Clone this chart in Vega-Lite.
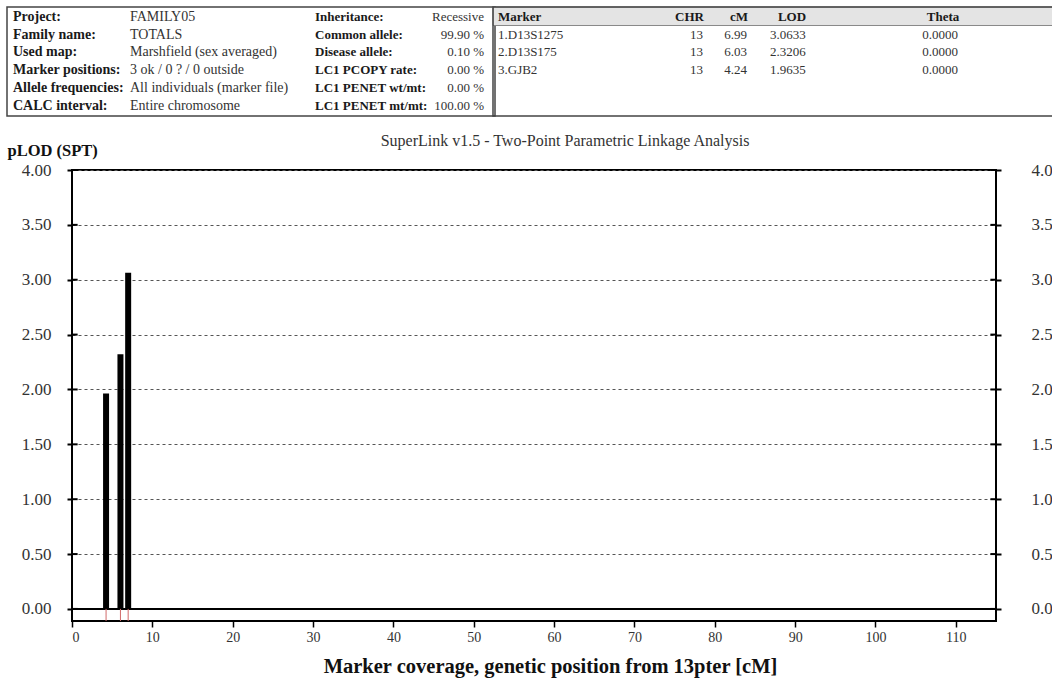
{
  "$schema": "https://vega.github.io/schema/vega-lite/v6.json",
  "width": 924,
  "height": 451,
  "autosize": {"type": "none"},
  "padding": {"left": 72, "top": 170, "right": 56, "bottom": 62},
  "background": "white",
  "config": {
    "view": {"stroke": "#000", "strokeWidth": 2},
    "text": {"font": "Liberation Serif", "fontSize": 13, "baseline": "middle", "color": "#333"}
  },
  "datasets": {
    "markers": [
      {"no": 1, "marker": "1.D13S1275", "chr": 13, "cM": 6.99, "LOD": 3.0633, "theta": 0},
      {"no": 2, "marker": "2.D13S175", "chr": 13, "cM": 6.03, "LOD": 2.3206, "theta": 0},
      {"no": 3, "marker": "3.GJB2", "chr": 13, "cM": 4.24, "LOD": 1.9635, "theta": 0}
    ],
    "run": [
      {"row": 0, "label": "Project:", "value": "FAMILY05"},
      {"row": 1, "label": "Family name:", "value": "TOTALS"},
      {"row": 2, "label": "Used map:", "value": "Marshfield  (sex averaged)"},
      {"row": 3, "label": "Marker positions:", "value": "3 ok / 0 ? / 0 outside"},
      {"row": 4, "label": "Allele frequencies:", "value": "All individuals (marker file)"},
      {"row": 5, "label": "CALC interval:", "value": "Entire chromosome"}
    ],
    "model": [
      {"row": 0, "label": "Inheritance:", "value": "Recessive"},
      {"row": 1, "label": "Common allele:", "value": "99.90 %"},
      {"row": 2, "label": "Disease allele:", "value": "0.10 %"},
      {"row": 3, "label": "LC1 PCOPY rate:", "value": "0.00 %"},
      {"row": 4, "label": "LC1 PENET wt/mt:", "value": "0.00 %"},
      {"row": 5, "label": "LC1 PENET mt/mt:", "value": "100.00 %"}
    ],
    "yticks": [{"v": 0}, {"v": 0.5}, {"v": 1}, {"v": 1.5}, {"v": 2}, {"v": 2.5}, {"v": 3}, {"v": 3.5}, {"v": 4}],
    "one": [{}]
  },
  "layer": [
    {
      "resolve": {"axis": {"y": "independent"}},
      "layer": [
        {
          "data": {"name": "one"},
          "mark": {"type": "rule", "color": "#000", "strokeWidth": 2},
          "encoding": {
            "y": {"datum": 0, "type": "quantitative", "scale": {"domain": [-0.11, 4], "nice": false, "zero": false, "padding": 0}, "axis": null}
          }
        },
        {
          "data": {"name": "markers"},
          "mark": {"type": "bar", "color": "#000", "size": 6},
          "encoding": {
            "x": {
              "field": "cM", "type": "quantitative",
              "scale": {"domain": [0, 115], "nice": false, "zero": false, "padding": 0},
              "axis": {
                "orient": "bottom", "values": [0, 10, 20, 30, 40, 50, 60, 70, 80, 90, 100, 110],
                "domain": false, "grid": false, "tickSize": 6, "tickWidth": 1.5, "tickColor": "#000",
                "labelFont": "Liberation Serif", "labelFontSize": 14, "labelColor": "#333", "labelPadding": 3,
                "title": "Marker coverage, genetic position from 13pter [cM]",
                "titleFont": "Liberation Serif", "titleFontSize": 20.5, "titleFontWeight": "bold", "titleColor": "#111",
                "titleX": 478, "titleY": 45, "titleAlign": "center", "titleBaseline": "middle", "titleAnchor": null
              }
            },
            "y": {
              "field": "LOD", "type": "quantitative",
              "scale": {"domain": [-0.11, 4], "nice": false, "zero": false, "padding": 0},
              "axis": {
                "orient": "left", "values": [0, 0.5, 1, 1.5, 2, 2.5, 3, 3.5, 4], "format": ".2f",
                "domain": false, "grid": true, "gridDash": [3, 3], "gridColor": "#555", "gridWidth": 1,
                "tickSize": 5, "tickWidth": 2, "tickColor": "#000",
                "labelFont": "Liberation Serif", "labelFontSize": 17, "labelColor": "#333", "labelPadding": 16,
                "title": "pLOD (SPT)", "titleFont": "Liberation Serif", "titleFontSize": 16.5, "titleFontWeight": "bold",
                "titleColor": "#111", "titleAngle": 0, "titleAlign": "left", "titleBaseline": "middle",
                "titleX": -65, "titleY": -20
              }
            },
            "y2": {"datum": 0}
          }
        },
        {
          "data": {"name": "markers"},
          "mark": {"type": "rule", "color": "#d26a6a", "strokeWidth": 1},
          "encoding": {
            "x": {"field": "cM", "type": "quantitative", "scale": {"domain": [0, 115], "nice": false, "zero": false, "padding": 0}},
            "y": {"datum": 0, "type": "quantitative", "scale": {"domain": [-0.11, 4], "nice": false, "zero": false, "padding": 0}, "axis": null},
            "y2": {"datum": -0.11}
          }
        },
        {
          "data": {"name": "yticks"},
          "mark": {"type": "rule", "color": "#000", "strokeWidth": 2},
          "encoding": {
            "x": {"datum": 0, "type": "quantitative", "scale": {"domain": [0, 115], "nice": false, "zero": false, "padding": 0}},
            "x2": {"datum": 0.7},
            "y": {"field": "v", "type": "quantitative", "scale": {"domain": [-0.11, 4], "nice": false, "zero": false, "padding": 0}, "axis": null}
          }
        },
        {
          "data": {"name": "yticks"},
          "mark": {"type": "rule", "color": "#000", "strokeWidth": 2},
          "encoding": {
            "x": {"datum": 114.3, "type": "quantitative", "scale": {"domain": [0, 115], "nice": false, "zero": false, "padding": 0}},
            "x2": {"datum": 115},
            "y": {
              "field": "v", "type": "quantitative",
              "scale": {"domain": [-0.11, 4], "nice": false, "zero": false, "padding": 0},
              "axis": {
                "orient": "right", "values": [0, 0.5, 1, 1.5, 2, 2.5, 3, 3.5, 4], "format": ".2f",
                "domain": false, "grid": false, "tickSize": 5, "tickWidth": 2, "tickColor": "#000",
                "labelFont": "Liberation Serif", "labelFontSize": 17, "labelColor": "#333", "labelPadding": 30,
                "title": null
              }
            }
          }
        }
      ]
    },
    {
      "layer": [
        {
          "data": {"name": "one"},
          "mark": {"type": "rect", "fill": null, "stroke": "#444", "strokeWidth": 1.5},
          "encoding": {
            "x": {"datum": 7, "type": "quantitative", "scale": {"domain": [0, 1052], "range": [-72, 980], "nice": false, "zero": false}, "axis": null},
            "x2": {"datum": 495},
            "y": {"datum": -0.565, "type": "quantitative", "scale": {"domain": [0, 5], "range": [-153, -64.5], "nice": false, "zero": false}, "axis": null},
            "y2": {"datum": 5.593}
          }
        },
        {
          "data": {"name": "one"},
          "mark": {"type": "rect", "fill": "#e4e4e4", "stroke": "#888", "strokeWidth": 1},
          "encoding": {
            "x": {"datum": 493, "type": "quantitative", "scale": {"domain": [0, 1052], "range": [-72, 980], "nice": false, "zero": false}, "axis": null},
            "x2": {"datum": 1060},
            "y": {"datum": -0.565, "type": "quantitative", "scale": {"domain": [0, 5], "range": [-153, -64.5], "nice": false, "zero": false}, "axis": null},
            "y2": {"datum": 0.48}
          }
        },
        {
          "data": {"name": "one"},
          "mark": {"type": "rect", "fill": null, "stroke": "#444", "strokeWidth": 1.5},
          "encoding": {
            "x": {"datum": 493, "type": "quantitative", "scale": {"domain": [0, 1052], "range": [-72, 980], "nice": false, "zero": false}, "axis": null},
            "x2": {"datum": 1060},
            "y": {"datum": -0.565, "type": "quantitative", "scale": {"domain": [0, 5], "range": [-153, -64.5], "nice": false, "zero": false}, "axis": null},
            "y2": {"datum": 5.593}
          }
        },
        {
          "data": {"name": "run"},
          "mark": {"type": "text", "align": "left", "fontWeight": "bold", "color": "#1a1a1a", "fontSize": 14},
          "encoding": {
            "x": {"datum": 13, "type": "quantitative"},
            "y": {"field": "row", "type": "quantitative"},
            "text": {"field": "label"}
          }
        },
        {
          "data": {"name": "run"},
          "mark": {"type": "text", "align": "left", "fontSize": 14},
          "encoding": {
            "x": {"datum": 130, "type": "quantitative"},
            "y": {"field": "row", "type": "quantitative"},
            "text": {"field": "value"}
          }
        },
        {
          "data": {"name": "model"},
          "mark": {"type": "text", "align": "left", "fontWeight": "bold", "color": "#1a1a1a", "fontSize": 13},
          "encoding": {
            "x": {"datum": 315, "type": "quantitative"},
            "y": {"field": "row", "type": "quantitative"},
            "text": {"field": "label"}
          }
        },
        {
          "data": {"name": "model"},
          "mark": {"type": "text", "align": "right", "fontSize": 13},
          "encoding": {
            "x": {"datum": 484, "type": "quantitative"},
            "y": {"field": "row", "type": "quantitative"},
            "text": {"field": "value"}
          }
        },
        {
          "data": {"name": "one"},
          "mark": {"type": "text", "align": "left", "fontWeight": "bold", "color": "#1a1a1a"},
          "encoding": {"x": {"datum": 498, "type": "quantitative"}, "y": {"datum": 0, "type": "quantitative"}, "text": {"value": "Marker"}}
        },
        {
          "data": {"name": "one"},
          "mark": {"type": "text", "align": "right", "fontWeight": "bold", "color": "#1a1a1a"},
          "encoding": {"x": {"datum": 704, "type": "quantitative"}, "y": {"datum": 0, "type": "quantitative"}, "text": {"value": "CHR"}}
        },
        {
          "data": {"name": "one"},
          "mark": {"type": "text", "align": "right", "fontWeight": "bold", "color": "#1a1a1a"},
          "encoding": {"x": {"datum": 748, "type": "quantitative"}, "y": {"datum": 0, "type": "quantitative"}, "text": {"value": "cM"}}
        },
        {
          "data": {"name": "one"},
          "mark": {"type": "text", "align": "center", "fontWeight": "bold", "color": "#1a1a1a"},
          "encoding": {"x": {"datum": 792, "type": "quantitative"}, "y": {"datum": 0, "type": "quantitative"}, "text": {"value": "LOD"}}
        },
        {
          "data": {"name": "one"},
          "mark": {"type": "text", "align": "center", "fontWeight": "bold", "color": "#1a1a1a"},
          "encoding": {"x": {"datum": 943, "type": "quantitative"}, "y": {"datum": 0, "type": "quantitative"}, "text": {"value": "Theta"}}
        },
        {
          "data": {"name": "markers"},
          "mark": {"type": "text", "align": "left"},
          "encoding": {"x": {"datum": 498, "type": "quantitative"}, "y": {"field": "no", "type": "quantitative"}, "text": {"field": "marker"}}
        },
        {
          "data": {"name": "markers"},
          "mark": {"type": "text", "align": "right"},
          "encoding": {"x": {"datum": 703, "type": "quantitative"}, "y": {"field": "no", "type": "quantitative"}, "text": {"field": "chr", "format": "d"}}
        },
        {
          "data": {"name": "markers"},
          "mark": {"type": "text", "align": "right"},
          "encoding": {"x": {"datum": 747, "type": "quantitative"}, "y": {"field": "no", "type": "quantitative"}, "text": {"field": "cM", "format": ".2f"}}
        },
        {
          "data": {"name": "markers"},
          "mark": {"type": "text", "align": "left"},
          "encoding": {"x": {"datum": 770, "type": "quantitative"}, "y": {"field": "no", "type": "quantitative"}, "text": {"field": "LOD", "format": ".4f"}}
        },
        {
          "data": {"name": "markers"},
          "mark": {"type": "text", "align": "center"},
          "encoding": {"x": {"datum": 940, "type": "quantitative"}, "y": {"field": "no", "type": "quantitative"}, "text": {"field": "theta", "format": ".4f"}}
        },
        {
          "data": {"name": "one"},
          "mark": {"type": "text", "align": "center", "fontSize": 16},
          "encoding": {"x": {"datum": 565, "type": "quantitative"}, "y": {"datum": 7.0, "type": "quantitative"}, "text": {"value": "SuperLink v1.5 - Two-Point Parametric Linkage Analysis"}}
        }
      ]
    }
  ],
  "resolve": {"scale": {"x": "independent", "y": "independent"}, "axis": {"x": "independent", "y": "independent"}}
}
